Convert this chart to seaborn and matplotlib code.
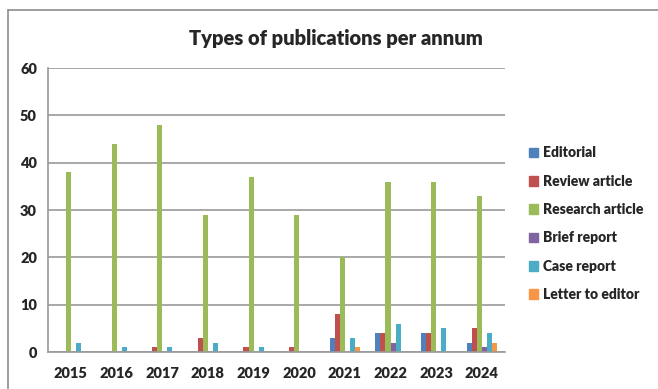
import matplotlib
matplotlib.use("Agg")
import matplotlib.pyplot as plt
import matplotlib.patches as mpatches
import seaborn as sns
import pandas as pd

years = ["2015", "2016", "2017", "2018", "2019", "2020", "2021", "2022", "2023", "2024"]
categories = ["Editorial", "Review article", "Research article", "Brief report",
              "Case report", "Letter to editor"]
editorial = [0, 0, 0, 0, 0, 0, 3, 4, 4, 2]
review = [0, 0, 1, 3, 1, 1, 8, 4, 4, 5]
research = [38, 44, 48, 29, 37, 29, 20, 36, 36, 33]
brief = [0, 0, 0, 0, 0, 0, 0, 2, 0, 1]
case = [2, 1, 1, 2, 1, 0, 3, 6, 5, 4]
letter = [0, 0, 0, 0, 0, 0, 1, 0, 0, 2]
colors = ["#4F81BD", "#C0504D", "#9BBB59", "#8064A2", "#4BACC6", "#F79646"]

series = [editorial, review, research, brief, case, letter]
rows = []
for cat, vals in zip(categories, series):
    for y, v in zip(years, vals):
        rows.append({"Year": y, "Type": cat, "Count": v})
df = pd.DataFrame(rows)

sns.set_theme(style="white")
plt.rcParams["font.family"] = ["Lato", "DejaVu Sans"]
plt.rcParams["font.weight"] = "heavy"

fig = plt.figure(figsize=(6.58, 3.89), dpi=100)
ax = fig.add_axes([0.073, 0.095, 0.694, 0.730])

sns.barplot(data=df, x="Year", y="Count", hue="Type", hue_order=categories,
            order=years, palette=colors, width=0.66, saturation=1,
            linewidth=0, ax=ax, legend=False)

ax.set_ylim(0, 60)
ax.set_yticks(range(0, 61, 10))
ax.set_xlabel("")
ax.set_ylabel("")
ax.yaxis.grid(True, color="#9A9A9A", linewidth=1.2)
ax.set_axisbelow(True)
for side in ["top", "right"]:
    ax.spines[side].set_visible(False)
for side in ["left", "bottom"]:
    ax.spines[side].set_color("#9A9A9A")
    ax.spines[side].set_linewidth(1.2)
ax.tick_params(axis="both", length=0, labelsize=10.5)
ax.tick_params(axis="x", pad=11)
ax.tick_params(axis="y", pad=8)
for lab in ax.get_xticklabels() + ax.get_yticklabels():
    lab.set_fontweight("heavy")

fig.text(0.51, 0.900, "Types of publications per annum", ha="center", va="center",
         fontsize=14.5, fontweight="heavy")

handles = [mpatches.Patch(color=c, label=l) for c, l in zip(colors, categories)]
fig.legend(handles=handles, loc="center left", bbox_to_anchor=(0.795, 0.425),
           frameon=False, prop={"weight": "heavy", "size": 10},
           handlelength=0.7, handleheight=0.7, handletextpad=0.3,
           labelspacing=1.1, borderaxespad=0)

# chart frame
fig.add_artist(plt.Line2D([7.5 / 658, 7.5 / 658], [0, 1 - 10 / 389],
                          transform=fig.transFigure, color="#8C8C8C", linewidth=1.2))
fig.add_artist(plt.Line2D([7.5 / 658, 1], [1 - 10 / 389, 1 - 10 / 389],
                          transform=fig.transFigure, color="#8C8C8C", linewidth=1.2))

fig.savefig("out.png", dpi=100)
